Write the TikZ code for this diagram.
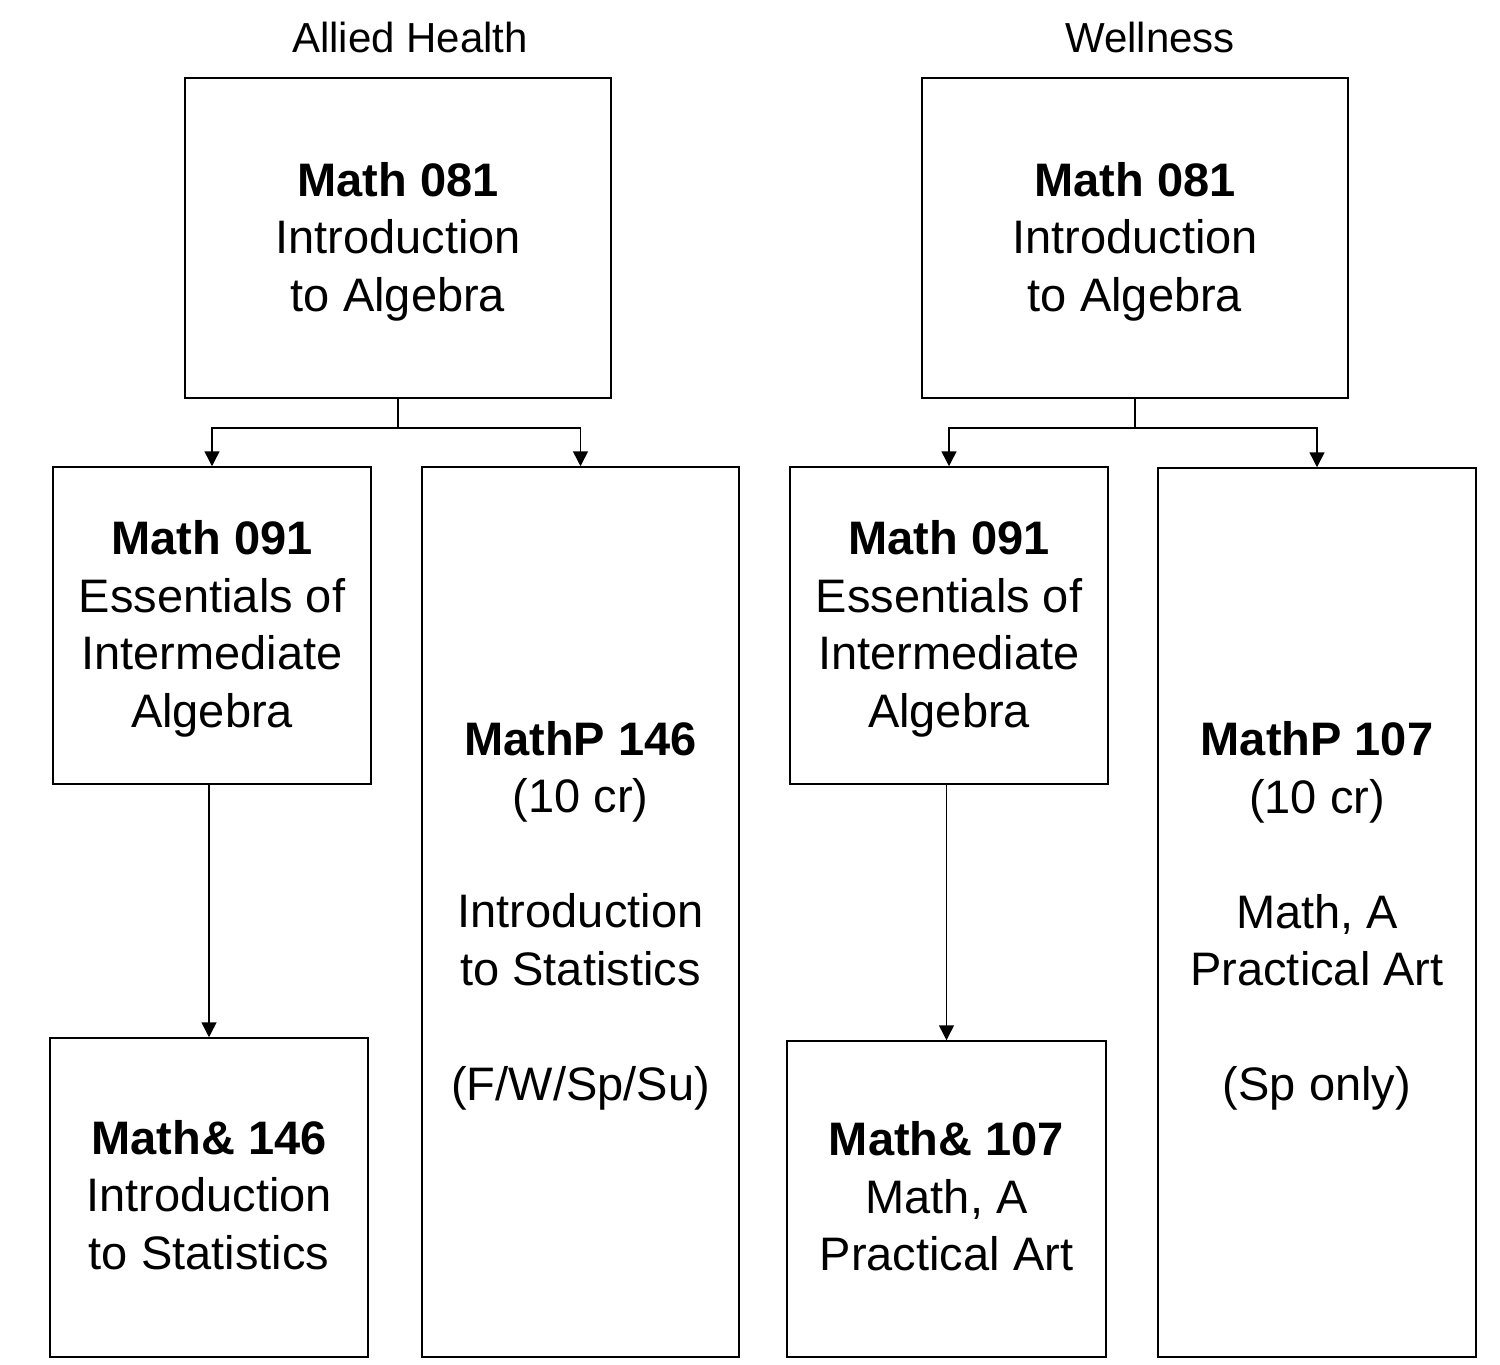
\documentclass[tikz,border=0pt]{standalone}
\usepackage{fontspec}
\setmainfont{Liberation Sans}
\usetikzlibrary{arrows.meta}
\newcommand\firstln{\rule{0pt}{41pt}}
\newcommand\lastln{\rule[-6pt]{0pt}{6pt}}
\begin{document}
\begin{tikzpicture}[x=1pt,y=-1pt,
  course/.style={draw=black,line width=1.5pt,align=center,inner sep=0pt,
    font=\fontsize{47}{57.5}\selectfont},
  heading/.style={inner sep=0pt,font=\fontsize{42}{50}\selectfont},
  link/.style={line width=1.5pt,-{Triangle[width=15pt,length=15pt]}}]
\useasboundingbox (0,0) rectangle (1500,1365);
% Allied Health
\node[heading] (t1) at (410,37) {Allied Health};
\node[course,minimum width=426pt,minimum height=320pt] (A1) at (398,238)
  {\firstln\textbf{Math 081}\\Introduction\\to Algebra};
\node[course,minimum width=318pt,minimum height=317pt] (B1) at (212,625.5)
  {\firstln\textbf{Math 091}\\Essentials of\\Intermediate\\Algebra};
\node[course,minimum width=317pt,minimum height=890pt] (C1) at (580.5,912)
  {\firstln\textbf{MathP 146}\\(10 cr)\\[57.5pt]Introduction\\to Statistics\\[57.5pt](F/W/Sp/Su)};
\node[course,minimum width=318pt,minimum height=319pt] (D1) at (209,1197.5)
  {\textbf{Math\& 146}\\Introduction\\to Statistics\lastln};
% Wellness
\node[heading] (t2) at (1150,37) {Wellness};
\node[course,minimum width=426pt,minimum height=320pt] (A2) at (1135,238)
  {\firstln\textbf{Math 081}\\Introduction\\to Algebra};
\node[course,minimum width=318pt,minimum height=317pt] (B2) at (949,625.5)
  {\firstln\textbf{Math 091}\\Essentials of\\Intermediate\\Algebra};
\node[course,minimum width=318pt,minimum height=889pt] (C2) at (1317,912.5)
  {\firstln\textbf{MathP 107}\\(10 cr)\\[57.5pt]Math, A\\Practical Art\\[57.5pt](Sp only)};
\node[course,minimum width=319pt,minimum height=316pt] (D2) at (946.5,1199)
  {\textbf{Math\& 107}\\Math, A\\Practical Art\lastln};
% connectors
\coordinate (j1) at (398,428);
\coordinate (j2) at (1135,428);
\draw[line width=1.5pt] (A1.south) -- (j1);
\draw[link] (j1) -| (B1.north);
\draw[link] (j1) -| (C1.north);
\draw[link] (D1.north |- B1.south) -- (D1.north);
\draw[line width=1.5pt] (A2.south) -- (j2);
\draw[link] (j2) -| (B2.north);
\draw[link] (j2) -| (C2.north);
\draw[link] (D2.north |- B2.south) -- (D2.north);
\end{tikzpicture}
\end{document}
